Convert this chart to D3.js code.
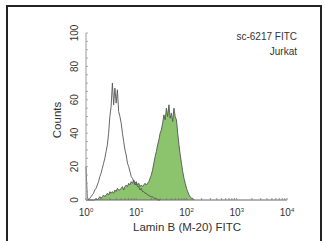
<!DOCTYPE html>
<html>
<head>
<meta charset="utf-8">
<script src="https://cdn.jsdelivr.net/npm/d3@7"></script>
<style>
  body { margin: 0; background: #fff; }
  text { font-family: "Liberation Sans", Arial, sans-serif; }
  .narrow { font-family: "Liberation Sans Narrow", "Arial Narrow", sans-serif; }
</style>
</head>
<body>
<svg id="chart" width="325" height="241"></svg>
<script>
// histogram bins, log10 step of 0.025 starting at 10^0
var binStep = 0.025;
var controlCounts = [20,2,0,1,2,3,4,6,7,9,11,14,16,19,22,25,29,33,40,50,56,70,57,67,58,66,53,50,46,40,35,30,27,22,20,17,14,13,11,9,10,8,8,6,7,5,5,4,4,3,3,2,2,2,1,1,1,0,0,0];
var stainedCounts = [0,0,0,0,0,0,0,0,1,0,1,2,1,2,3,2,3,4,3,5,4,5,4,6,5,7,6,6,7,8,6,8,9,8,10,9,11,10,12,10,11,9,10,8,9,8,9,10,9,10,11,13,15,18,22,26,29,33,36,40,42,46,51,48,55,50,57,49,52,47,55,50,48,40,33,27,22,17,13,10,7,5,3,2,1,1,0];
var xTicks = [1, 10, 100, 1000, 10000];
var xTickExp = ["0", "1", "2", "3", "4"];
var yTicks = [0, 20, 40, 60, 80, 100];
var xTitle = "Lamin B (M-20) FITC";
var yTitle = "Counts";
var noteLines = ["sc-6217 FITC", "Jurkat"];

var svg = d3.select("#chart");

// outer frame
svg.append("rect").attr("x", 7).attr("y", 6).attr("width", 314).attr("height", 240)
  .attr("fill", "none").attr("stroke", "#222").attr("stroke-width", 2);

var x = d3.scaleLog().domain([1, 10000]).range([86, 287]);
var y = d3.scaleLinear().domain([0, 100]).range([200, 33]);

function toPoints(arr) {
  return arr.map(function(c, i) { return [Math.pow(10, i * binStep), c]; });
}

var area = d3.area().x(function(d) { return x(d[0]); }).y0(y(0)).y1(function(d) { return y(d[1]); });
var line = d3.line().x(function(d) { return x(d[0]); }).y(function(d) { return y(d[1]); });

var stained = toPoints(stainedCounts);
var control = toPoints(controlCounts);

svg.append("path").datum(stained).attr("d", area).attr("fill", "#8cc46e");
svg.append("path").datum(stained).attr("d", line).attr("fill", "none")
  .attr("stroke", "#555").attr("stroke-width", 0.9);
svg.append("path").datum(control).attr("d", line).attr("fill", "none")
  .attr("stroke", "#555").attr("stroke-width", 0.9);

// x axis baseline with log minor ticks
var minor = [];
for (var e = 0; e < 4; e++) for (var m = 1; m < 10; m++) minor.push(m * Math.pow(10, e));
minor.push(10000);
svg.append("line").attr("x1", 86).attr("x2", 287).attr("y1", 200).attr("y2", 200)
  .attr("stroke", "#666").attr("stroke-width", 1);
svg.selectAll(".xminor").data(minor).enter().append("line")
  .attr("x1", function(d) { return x(d); }).attr("x2", function(d) { return x(d); })
  .attr("y1", 200).attr("y2", 198).attr("stroke", "#777").attr("stroke-width", 0.8);

var xl = svg.selectAll(".xlab").data(xTicks).enter().append("text")
  .attr("x", function(d) { return x(d); }).attr("y", 216)
  .attr("text-anchor", "middle").attr("font-size", 10).attr("fill", "#333");
xl.append("tspan").text("10");
xl.append("tspan").attr("dy", -4).attr("font-size", 6).text(function(d, i) { return xTickExp[i]; });

// y axis
svg.append("line").attr("x1", 86).attr("x2", 86).attr("y1", 33).attr("y2", 200)
  .attr("stroke", "#999").attr("stroke-width", 1);
svg.selectAll(".yminor").data(d3.range(0, 101, 5)).enter().append("line")
  .attr("x1", 86).attr("x2", 88).attr("y1", function(d) { return y(d); }).attr("y2", function(d) { return y(d); })
  .attr("stroke", "#999").attr("stroke-width", 0.8);
svg.selectAll(".ylab").data(yTicks).enter().append("text")
  .attr("class", "narrow")
  .attr("transform", function(d) { return "translate(78," + y(d) + ") rotate(-90)"; })
  .attr("text-anchor", "middle").attr("font-size", 10).attr("fill", "#333")
  .text(function(d) { return d; });

svg.append("text").attr("transform", "translate(61,120) rotate(-90)")
  .attr("text-anchor", "middle").attr("font-size", 11.5).attr("fill", "#333").text(yTitle);
svg.append("text").attr("x", 187).attr("y", 231).attr("text-anchor", "middle")
  .attr("font-size", 11.5).attr("fill", "#333").text(xTitle);

svg.selectAll(".note").data(noteLines).enter().append("text")
  .attr("x", 297).attr("y", function(d, i) { return 40 + i * 15; })
  .attr("text-anchor", "end").attr("font-size", 10).attr("fill", "#333").text(function(d) { return d; });
</script>
</body>
</html>
